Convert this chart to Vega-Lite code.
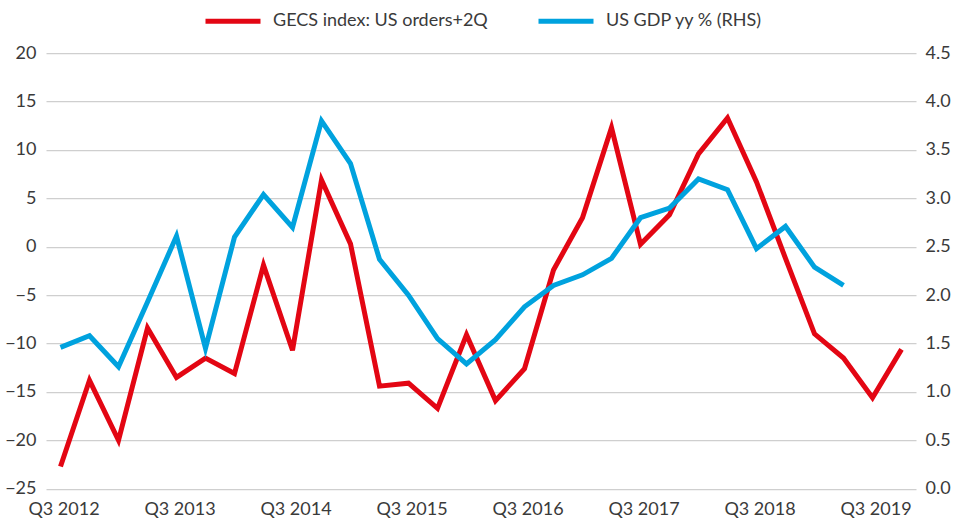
{
  "$schema": "https://vega.github.io/schema/vega-lite/v6.json",
  "autosize": {"type": "none"},
  "width": 870,
  "height": 435.5,
  "padding": {"left": 46, "top": 53.2, "right": 51, "bottom": 31.3},
  "background": "white",
  "config": {
    "font": "Lato",
    "view": {"stroke": null},
    "axis": {"labelFont": "Lato", "labelFontSize": 18, "labelColor": "#3a3a3a", "ticks": false, "domain": false, "titleFontSize": 0}
  },
  "data": {
    "values": [
      {"period": "Q3 2012", "gecs": -22.7, "gdp": 1.46},
      {"period": "Q4 2012", "gecs": -13.8, "gdp": 1.58},
      {"period": "Q1 2013", "gecs": -20.0, "gdp": 1.26},
      {"period": "Q2 2013", "gecs": -8.4, "gdp": 1.93},
      {"period": "Q3 2013", "gecs": -13.5, "gdp": 2.61},
      {"period": "Q4 2013", "gecs": -11.5, "gdp": 1.45},
      {"period": "Q1 2014", "gecs": -13.1, "gdp": 2.60},
      {"period": "Q2 2014", "gecs": -1.9, "gdp": 3.04},
      {"period": "Q3 2014", "gecs": -10.7, "gdp": 2.70},
      {"period": "Q4 2014", "gecs": 6.9, "gdp": 3.80},
      {"period": "Q1 2015", "gecs": 0.3, "gdp": 3.36},
      {"period": "Q2 2015", "gecs": -14.4, "gdp": 2.37},
      {"period": "Q3 2015", "gecs": -14.1, "gdp": 2.00},
      {"period": "Q4 2015", "gecs": -16.7, "gdp": 1.55},
      {"period": "Q1 2016", "gecs": -9.1, "gdp": 1.29},
      {"period": "Q2 2016", "gecs": -15.9, "gdp": 1.54},
      {"period": "Q3 2016", "gecs": -12.6, "gdp": 1.88},
      {"period": "Q4 2016", "gecs": -2.4, "gdp": 2.10},
      {"period": "Q1 2017", "gecs": 3.0, "gdp": 2.21},
      {"period": "Q2 2017", "gecs": 12.3, "gdp": 2.38},
      {"period": "Q3 2017", "gecs": 0.25, "gdp": 2.80},
      {"period": "Q4 2017", "gecs": 3.3, "gdp": 2.90},
      {"period": "Q1 2018", "gecs": 9.6, "gdp": 3.20},
      {"period": "Q2 2018", "gecs": 13.3, "gdp": 3.09},
      {"period": "Q3 2018", "gecs": 6.7, "gdp": 2.48},
      {"period": "Q4 2018", "gecs": -1.2, "gdp": 2.71},
      {"period": "Q1 2019", "gecs": -9.0, "gdp": 2.29},
      {"period": "Q2 2019", "gecs": -11.5, "gdp": 2.10},
      {"period": "Q3 2019", "gecs": -15.6, "gdp": null},
      {"period": "Q4 2019", "gecs": -10.6, "gdp": null}
    ]
  },
  "encoding": {
    "x": {
      "field": "period",
      "type": "ordinal",
      "sort": null,
      "scale": {"type": "point", "padding": 0.5},
      "axis": {
        "title": null,
        "labelAngle": 0,
        "labelPadding": 12,
        "labelOffset": 3,
        "values": ["Q3 2012", "Q3 2013", "Q3 2014", "Q3 2015", "Q3 2016", "Q3 2017", "Q3 2018", "Q3 2019"]
      }
    }
  },
  "layer": [
    {
      "mark": {"type": "line", "strokeWidth": 5, "strokeJoin": "miter", "strokeCap": "butt"},
      "encoding": {
        "y": {
          "field": "gecs",
          "type": "quantitative",
          "scale": {"domain": [-25, 20], "nice": false, "zero": false},
          "axis": {
            "title": null,
            "orient": "left",
            "values": [-25, -20, -15, -10, -5, 0, 5, 10, 15, 20],
            "grid": true,
            "gridColor": "#cfcfcf",
            "gridWidth": 1.2,
            "labelPadding": 10
          }
        },
        "color": {
          "datum": "GECS index: US orders+2Q",
          "type": "nominal",
          "scale": {
            "domain": ["GECS index: US orders+2Q", "US GDP yy % (RHS)"],
            "range": ["#e30613", "#00a2de"]
          },
          "legend": {
            "title": null,
            "orient": "none",
            "direction": "horizontal",
            "legendX": 157,
            "legendY": -62,
            "symbolType": "stroke",
            "symbolSize": 3025,
            "symbolStrokeWidth": 5,
            "labelFont": "Lato",
            "labelFontSize": 18,
            "labelColor": "#3a3a3a",
            "labelLimit": 0,
            "labelOffset": 10,
            "columnPadding": 40
          }
        }
      }
    },
    {
      "mark": {"type": "line", "strokeWidth": 5, "strokeJoin": "miter", "strokeCap": "butt"},
      "encoding": {
        "y": {
          "field": "gdp",
          "type": "quantitative",
          "scale": {"domain": [0, 4.5], "nice": false},
          "axis": {
            "title": null,
            "orient": "right",
            "values": [0, 0.5, 1, 1.5, 2, 2.5, 3, 3.5, 4, 4.5],
            "format": ".1f",
            "grid": false,
            "labelPadding": 9
          }
        },
        "color": {"datum": "US GDP yy % (RHS)", "type": "nominal"}
      }
    }
  ],
  "resolve": {"scale": {"y": "independent"}}
}
